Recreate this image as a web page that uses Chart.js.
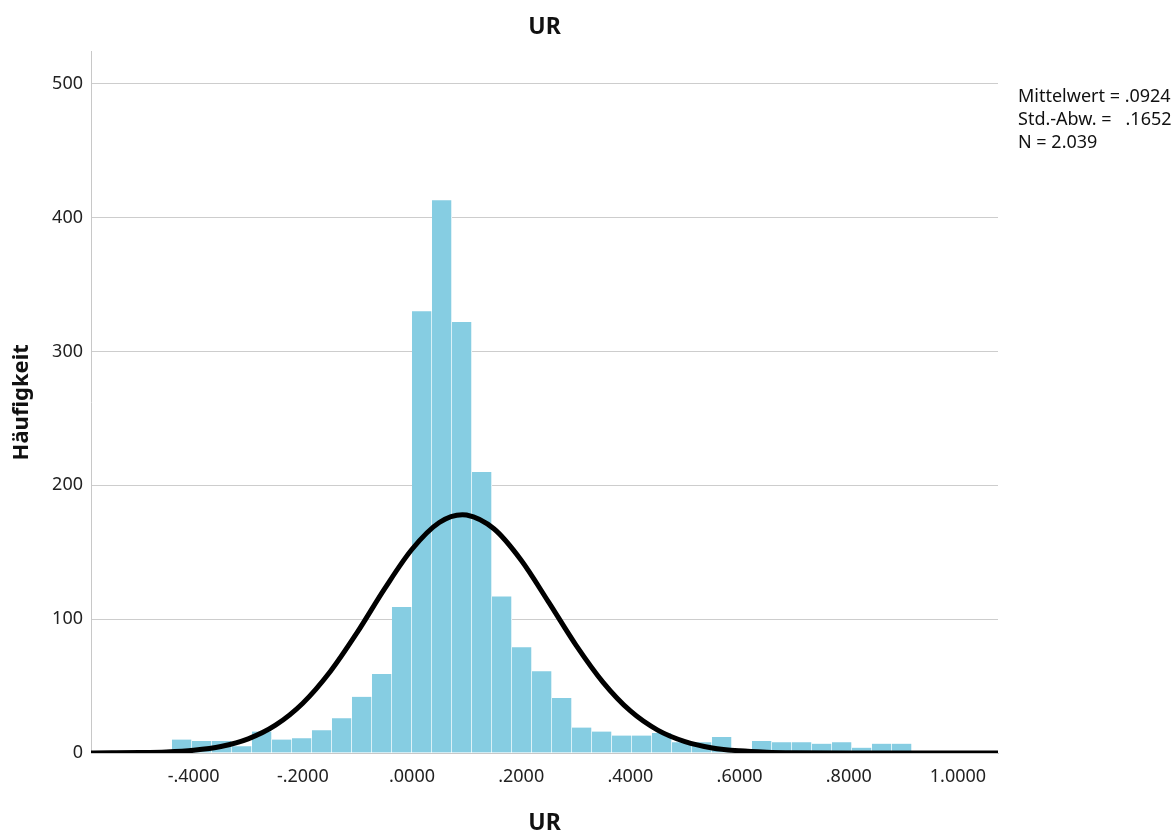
<!DOCTYPE html>
<html>
<head>
<meta charset="utf-8">
<script src="https://cdn.jsdelivr.net/npm/chart.js@4"></script>
<style>
  html, body { margin: 0; padding: 0; background: #fff; }
  #contenedor { position: relative; width: 1176px; height: 834px; }
  #estadisticos {
    position: absolute; left: 1018px; top: 84px;
    font: 18px "Noto Sans", sans-serif; line-height: 23px; color: #111;
    white-space: pre;
  }
</style>
</head>
<body>
<div id="contenedor">
  <canvas id="graficoHistograma" width="1176" height="834"></canvas>
  <div id="estadisticos"></div>
</div>
<script>
// centros de los intervalos del histograma (ancho ~ .0366)
var centrosIntervalo = [-0.4213, -0.3847, -0.3480, -0.3114, -0.2748, -0.2381, -0.2015, -0.1649, -0.1283, -0.0916,
  -0.0550, -0.0184, 0.0183, 0.0549, 0.0915, 0.1282, 0.1648, 0.2014, 0.2381, 0.2747,
  0.3113, 0.3479, 0.3846, 0.4212, 0.4578, 0.4945, 0.5311, 0.5677, 0.6043, 0.6410,
  0.6776, 0.7142, 0.7509, 0.7875, 0.8241, 0.8607, 0.8974];
// frecuencias
var frecuencias = [10, 9, 9, 5, 16, 10, 11, 17, 26, 42,
  59, 109, 330, 413, 322, 210, 117, 79, 61, 41,
  19, 16, 13, 13, 15, 8, 8, 12, 2, 9,
  8, 8, 7, 8, 4, 7, 7];
// curva normal
var curvaX = [-0.60, -0.55, -0.50, -0.45, -0.40, -0.35, -0.30, -0.25, -0.20, -0.15, -0.10, -0.05,
  0.00, 0.05, 0.0924, 0.10, 0.15, 0.20, 0.25, 0.30, 0.35, 0.40, 0.45, 0.50, 0.55, 0.60, 0.65, 0.70, 0.80, 1.10];
var curvaY = [0, 0.1, 0.3, 0.8, 2.1, 4.9, 10.6, 20.8, 37.2, 60.7, 90.3, 122.8,
  152.2, 172.2, 178, 177.8, 167.5, 144.0, 112.9, 80.8, 52.8, 31.4, 17.1, 8.5, 3.8, 1.6, 0.6, 0.2, 0, 0];
var ticksX = [-0.4, -0.2, 0, 0.2, 0.4, 0.6, 0.8, 1.0];
var etiquetasX = ['-.4000', '-.2000', '.0000', '.2000', '.4000', '.6000', '.8000', '1.0000'];
var ticksY = [0, 100, 200, 300, 400, 500];
var estadisticos = ['Mittelwert = .0924', 'Std.-Abw. =   .1652', 'N = 2.039'];

document.getElementById('estadisticos').textContent = estadisticos.join('\n');

Chart.defaults.font.family = '"Noto Sans", sans-serif';
Chart.defaults.color = '#222';

var ctx = document.getElementById('graficoHistograma').getContext('2d');
var chart = new Chart(ctx, {
  type: 'bar',
  data: {
    datasets: [{
      type: 'line',
      data: curvaX.map((x, i) => ({ x: x, y: curvaY[i] })),
      borderColor: '#000',
      borderWidth: 5,
      pointRadius: 0,
      cubicInterpolationMode: 'monotone',
      clip: 0,
      order: 0
    }, {
      type: 'bar',
      data: centrosIntervalo.map((x, i) => ({ x: x, y: frecuencias[i] })),
      backgroundColor: '#86cde2',
      borderColor: '#fff',
      borderWidth: { left: 0, right: 1, top: 0, bottom: 0 },
      barPercentage: 1,
      categoryPercentage: 1,
      order: 1
    }]
  },
  options: {
    responsive: false,
    animation: false,
    layout: { padding: { top: 0, right: 178, bottom: 0, left: 0 } },
    plugins: {
      legend: { display: false },
      tooltip: { enabled: false },
      title: {
        display: true,
        text: 'UR',
        fullSize: false,
        color: '#111',
        font: { size: 23, weight: 'bold' },
        padding: { top: 14, bottom: 10 }
      }
    },
    scales: {
      x: {
        type: 'linear',
        offset: false,
        min: -0.5879,
        max: 1.0733,
        afterBuildTicks: scale => { scale.ticks = ticksX.map(v => ({ value: v })); },
        afterFit: scale => { scale.height = 81; },
        grid: { display: false, drawTicks: false },
        border: { display: true, color: '#c8c8c8' },
        ticks: {
          autoSkip: false,
          maxRotation: 0,
          padding: 13,
          font: { size: 18 },
          callback: v => etiquetasX[ticksX.indexOf(v)]
        },
        title: {
          display: true,
          text: 'UR',
          color: '#111',
          font: { size: 23, weight: 'bold' },
          padding: { top: 0, bottom: -3 }
        }
      },
      y: {
        min: 0,
        max: 524,
        afterBuildTicks: scale => { scale.ticks = ticksY.map(v => ({ value: v })); },
        afterFit: scale => { scale.width = 91; },
        grid: { color: '#cdcdcd', drawTicks: false },
        border: { display: true, color: '#c8c8c8' },
        ticks: { padding: 8, font: { size: 18 } },
        title: {
          display: true,
          text: 'Häufigkeit',
          color: '#111',
          font: { size: 22, weight: 'bold' },
          padding: { top: 9, bottom: 0 }
        }
      }
    }
  }
});
</script>
</body>
</html>
